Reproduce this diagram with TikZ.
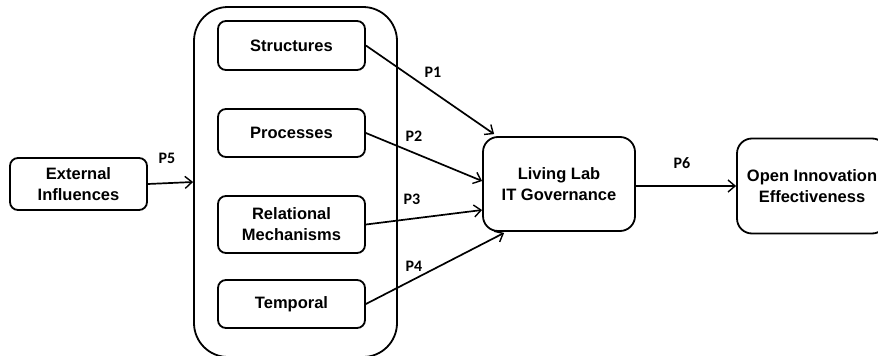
\documentclass[tikz,border=0pt]{standalone}
\usepackage{fontspec}
\setmainfont{Liberation Sans}
\newfontfamily\labfont{Carlito}
\usetikzlibrary{arrows.meta}
\begin{document}
\begin{tikzpicture}[x=1pt,y=-1pt,
  box/.style={draw,line width=1.8pt,rounded corners=8pt,align=center,inner sep=0pt,
    font=\fontsize{16.5}{21}\selectfont\bfseries},
  conn/.style={line width=1.7pt,-{Straight Barb[length=7pt,width=12pt,line width=1.4pt]}},
  plab/.style={font=\labfont\fontsize{16}{18}\selectfont\bfseries,inner sep=0pt}]
\useasboundingbox (0,0) rectangle (878,356);
\node[box,minimum width=203pt,minimum height=350pt,rounded corners=34pt] (cont) at (295.5,182) {};
\node[box,minimum width=137pt,minimum height=52pt] (ext) at (78.5,184) {External\\Influences};
\node[box,minimum width=147pt,minimum height=49pt] (str) at (291.5,45.5) {Structures};
\node[box,minimum width=147pt,minimum height=48pt] (pro) at (291.5,133) {Processes};
\node[box,minimum width=147pt,minimum height=57pt] (rel) at (291.5,224.5) {Relational\\Mechanisms};
\node[box,minimum width=147pt,minimum height=48pt] (tem) at (291.5,304) {Temporal};
\node[box,minimum width=152pt,minimum height=94pt,rounded corners=15pt] (ll) at (559,184) {Living Lab\\IT Governance};
\node[box,minimum width=150pt,minimum height=95pt,rounded corners=15pt] (oi) at (812,186) {Open Innovation\\Effectiveness};
\draw[conn] (ext.east) -- (cont.west);
\draw[conn] (str.east) -- ([xshift=12pt,yshift=2pt]ll.north west);
\draw[conn] (pro.east) -- ([yshift=3pt]ll.west);
\draw[conn] (rel.east) -- ([yshift=-26pt]ll.west);
\draw[conn] (tem.east) -- ([xshift=22pt,yshift=-1pt]ll.south west);
\draw[conn] ([yshift=-2pt]ll.east) -- (oi.west);
\node[plab] (p5) at (167,158) {P5};
\node[plab] (p1) at (433,72) {P1};
\node[plab] (p2) at (414,136) {P2};
\node[plab] (p3) at (412,199) {P3};
\node[plab] (p4) at (414,266) {P4};
\node[plab] (p6) at (682,163) {P6};
\end{tikzpicture}
\end{document}
